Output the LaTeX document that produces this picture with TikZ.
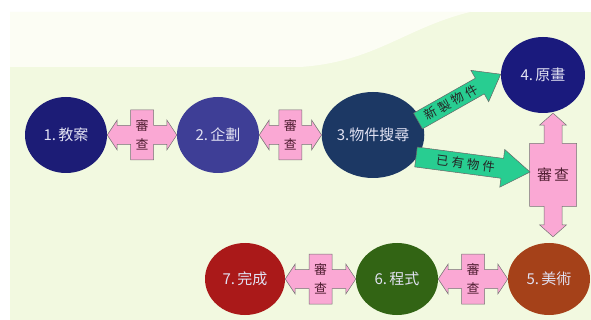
\documentclass[tikz,border=0pt]{standalone}
\usepackage{fontspec}
\newfontfamily\cjk{Noto Sans CJK TC}
\usetikzlibrary{shapes.geometric,calc}
\definecolor{bgA}{RGB}{242,249,224}
\definecolor{bgB}{RGB}{252,253,244}
\definecolor{cA}{RGB}{28,28,118}
\definecolor{cB}{RGB}{62,62,150}
\definecolor{cC}{RGB}{28,56,100}
\definecolor{cD}{RGB}{26,26,125}
\definecolor{cE}{RGB}{165,65,25}
\definecolor{cF}{RGB}{50,100,20}
\definecolor{cG}{RGB}{170,25,25}
\definecolor{pinkf}{RGB}{250,168,212}
\definecolor{greenf}{RGB}{40,205,145}
\definecolor{txtc}{RGB}{225,225,242}
\definecolor{boxtxt}{RGB}{80,30,50}
\tikzset{
  circ/.style={ellipse, inner sep=0pt, text=txtc,
    font=\cjk\fontsize{15pt}{18pt}\selectfont},
  pinkshape/.style={fill=pinkf, draw=black!55, line width=0.5pt, line join=miter},
  greenshape/.style={fill=greenf, draw=black!60, line width=0.5pt},
  crosstext/.style={text=boxtxt, align=center, inner sep=0pt,
    font=\cjk\fontsize{13pt}{19pt}\selectfont},
  arrowtext/.style={text=black!85, inner sep=0pt,
    font=\cjk\fontsize{12.5pt}{16pt}\selectfont}
}
\newcommand\chsp{\hspace{3pt}}
\newcommand\hcross[3]{%
  \path[pinkshape] let \p1=(#1.east), \p2=(#2.west), \p3=($(#1.east)!.5!(#2.west)$) in
    (\x1,\y1) -- (\x1+10pt,\y1+15pt) -- (\x1+10pt,\y1+9.5pt) -- (\x3-11.5pt,\y1+9.5pt)
    -- (\x3-11.5pt,\y1+25pt) -- (\x3+11.5pt,\y1+25pt) -- (\x3+11.5pt,\y1+9.5pt)
    -- (\x2-10pt,\y1+9.5pt) -- (\x2-10pt,\y1+15pt) -- (\x2,\y1)
    -- (\x2-10pt,\y1-15pt) -- (\x2-10pt,\y1-9.5pt) -- (\x3+11.5pt,\y1-9.5pt)
    -- (\x3+11.5pt,\y1-25pt) -- (\x3-11.5pt,\y1-25pt) -- (\x3-11.5pt,\y1-9.5pt)
    -- (\x1+10pt,\y1-9.5pt) -- (\x1+10pt,\y1-15pt) -- cycle
    node[crosstext] (#3) at (\x3,\y1) {審\\查};%
}
\begin{document}
\begin{tikzpicture}[x=1pt,y=-1pt]
\useasboundingbox (0,0) rectangle (591,320);
\fill[white] (0,0) rectangle (591,320);
% background
\fill[bgA] (10,12) rectangle (591,320);
\fill[bgB] (10,12) -- (470,12) .. controls (405,28) and (375,62) .. (300,67) -- (10,67) -- cycle;

% circles
\node[circ, fill=cA, minimum width=82pt, minimum height=76pt] (n1) at (66,135) {1.\,教案};
\node[circ, fill=cB, minimum width=82pt, minimum height=76pt] (n2) at (218,135) {2.\,企劃};
\node[circ, fill=cC, minimum width=88pt, minimum height=86pt] (n3) at (373,135) {3.物件搜尋};
\node[circ, fill=cD, minimum width=84pt, minimum height=76pt] (n4) at (543,75) {4.\,原畫};
\node[circ, fill=cE, minimum width=82pt, minimum height=72pt] (n5) at (549,279) {5.\,美術};
\node[circ, fill=cF, minimum width=82pt, minimum height=72pt] (n6) at (397,279) {6.\,程式};
\node[circ, fill=cG, minimum width=80pt, minimum height=72pt] (n7) at (245,279) {7.\,完成};

% horizontal review crosses
\hcross{n1}{n2}{r12}
\hcross{n2}{n3}{r23}
\hcross{n7}{n6}{r76}
\hcross{n6}{n5}{r65}

% vertical review cross between 4 and 5
\path[pinkshape] let \p1=(n4.south), \p2=(n5.north), \p3=($(n4.south)!.5!(n5.north)$) in
  (\x1+10pt,\y1) -- (\x1+23.5pt,\y1-12pt) -- (\x1+19pt,\y1-12pt) -- (\x1+19pt,\y3+34.5pt)
  -- (\x1+33.5pt,\y3+34.5pt) -- (\x1+33.5pt,\y3-28.5pt) -- (\x1+19pt,\y3-28.5pt)
  -- (\x1+19pt,\y2+18pt) -- (\x1+23.5pt,\y2+18pt) -- (\x1+10pt,\y2+6pt)
  -- (\x1-3.5pt,\y2+18pt) -- (\x1+1pt,\y2+18pt) -- (\x1+1pt,\y3-28.5pt)
  -- (\x1-13.5pt,\y3-28.5pt) -- (\x1-13.5pt,\y3+34.5pt) -- (\x1+1pt,\y3+34.5pt)
  -- (\x1+1pt,\y1-12pt) -- (\x1-3.5pt,\y1-12pt) -- cycle
  node[crosstext, font=\cjk\fontsize{15pt}{18pt}\selectfont] (r45) at (\x1+10pt,\y3+3pt) {審\hspace{2pt}查};

% green arrows
\coordinate (g1s) at (418,121);
\coordinate (g2s) at (416,157);
\begin{scope}[shift={(g1s)}, rotate=29.5]
  \path[greenshape] (0pt,9pt) -- (71pt,9pt) -- (71pt,18pt) -- (95pt,0pt) -- (71pt,-18pt)
    -- (71pt,-9pt) -- (0pt,-9pt) -- cycle;
  \node[arrowtext, rotate=29.5] (t1) at (38pt,0pt) {新\chsp 製\chsp 物\chsp 件};
\end{scope}
\begin{scope}[shift={(g2s)}, rotate=-7.5]
  \path[greenshape] (0pt,10pt) -- (87pt,10pt) -- (87pt,19pt) -- (115pt,0pt) -- (87pt,-19pt)
    -- (87pt,-10pt) -- (0pt,-10pt) -- cycle;
  \node[arrowtext, rotate=-7.5] (t2) at (50pt,0pt) {已\chsp 有\chsp 物\chsp 件};
\end{scope}
\end{tikzpicture}
\end{document}
